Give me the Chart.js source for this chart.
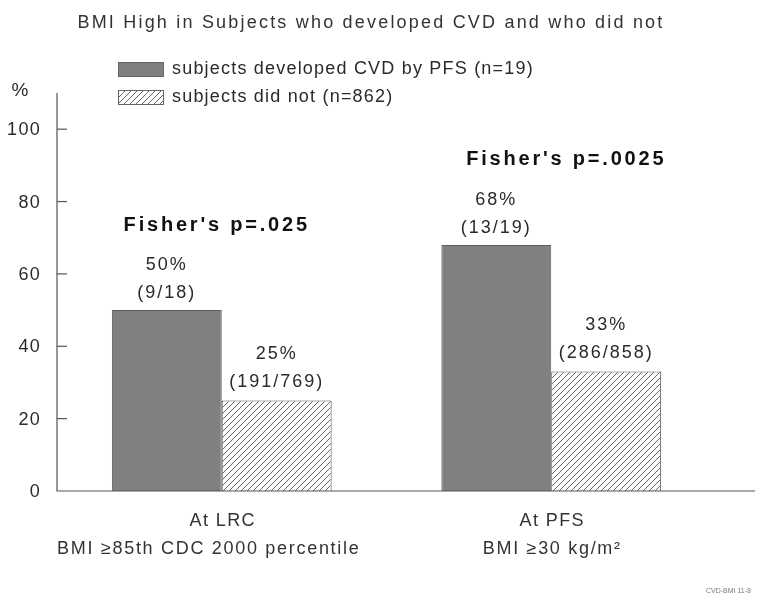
<!DOCTYPE html>
<html>
<head>
<meta charset="utf-8">
<script src="https://cdn.jsdelivr.net/npm/chart.js@4.4.1/dist/chart.umd.min.js"></script>
<style>
  html, body { margin: 0; padding: 0; background: #fff; }
  #wrap { width: 762px; height: 612px; position: relative; }
</style>
</head>
<body>
<div id="wrap"><canvas id="bmi-chart"></canvas></div>
<script>
// chart data
const groupLabels = [["At LRC", "BMI ≥85th CDC 2000 percentile"], ["At PFS", "BMI ≥30 kg/m²"]];
const seriesNames = ["subjects developed CVD by PFS (n=19)", "subjects did not (n=862)"];
const cvdValues = [50, 68];
const noCvdValues = [25, 33];
const cvdCounts = ["(9/18)", "(13/19)"];
const noCvdCounts = ["(191/769)", "(286/858)"];
const fisherLabels = ["Fisher's p=.025", "Fisher's p=.0025"];
const yTicks = [0, 20, 40, 60, 80, 100];

const FONT = "'Liberation Sans', Arial, Helvetica, sans-serif";

// diagonal hatch for the second series
const makeHatch = function () {
  const c = document.createElement("canvas");
  c.width = 6; c.height = 6;
  const g = c.getContext("2d");
  g.fillStyle = "#fff";
  g.fillRect(0, 0, 6, 6);
  g.strokeStyle = "#555";
  g.lineWidth = 0.9;
  g.beginPath();
  g.moveTo(-1, 7); g.lineTo(7, -1);
  g.moveTo(-1, 1); g.lineTo(1, -1);
  g.moveTo(5, 7); g.lineTo(7, 5);
  g.stroke();
  return document.getElementById("bmi-chart").getContext("2d").createPattern(c, "repeat");
};
const hatch = makeHatch();
const darkFill = "#808080";

const text = function (ctx, s, x, y, size, opts) {
  opts = opts || {};
  ctx.save();
  ctx.font = (opts.bold ? "bold " : "") + size + "px " + FONT;
  ctx.fillStyle = opts.color || "#2a2a2a";
  ctx.textAlign = opts.align || "center";
  ctx.textBaseline = "middle";
  ctx.letterSpacing = (opts.spacing || 0) + "px";
  ctx.fillText(s, x, y);
  ctx.restore();
};

// axes, labels and legend are drawn by hand to follow the slide layout
const decorations = {
  id: "decorations",
  afterDatasetsDraw: function (chart) {
    const ctx = chart.ctx;
    const area = chart.chartArea;
    const yScale = chart.scales.y;
    const xScale = chart.scales.x;

    ctx.save();
    ctx.strokeStyle = "#555";
    ctx.lineWidth = 1.2;
    ctx.beginPath();
    ctx.moveTo(area.left, area.top);
    ctx.lineTo(area.left, area.bottom);
    ctx.lineTo(755, area.bottom);
    ctx.stroke();

    // tick marks point into the plot
    for (const v of yTicks) {
      const y = yScale.getPixelForValue(v);
      if (v > 0) {
        ctx.beginPath();
        ctx.moveTo(area.left, y);
        ctx.lineTo(area.left + 10, y);
        ctx.stroke();
      }
      text(ctx, String(v), 41, y + 1, 18, { align: "right", spacing: 1.3 });
    }
    ctx.restore();
    text(ctx, "%", 20, 91, 19, { spacing: 0 });

    // title
    text(ctx, "BMI High in Subjects who developed CVD and who did not", 371, 23, 18, { spacing: 2.2, color: "#333" });

    // legend
    ctx.save();
    ctx.fillStyle = darkFill;
    ctx.fillRect(118, 62, 45, 14);
    ctx.strokeStyle = "#666";
    ctx.strokeRect(118.5, 62.5, 45, 14);
    ctx.fillStyle = hatch;
    ctx.fillRect(118, 90, 45, 14);
    ctx.strokeRect(118.5, 90.5, 45, 14);
    ctx.restore();
    text(ctx, seriesNames[0], 172, 69, 18, { align: "left", spacing: 1.2 });
    text(ctx, seriesNames[1], 172, 97, 18, { align: "left", spacing: 1.2 });

    // value labels above the bars
    const metaA = chart.getDatasetMeta(0);
    const metaB = chart.getDatasetMeta(1);
    for (let i = 0; i < groupLabels.length; i++) {
      const a = metaA.data[i];
      const b = metaB.data[i];
      text(ctx, cvdValues[i] + "%", a.x, a.y - 45, 18, { spacing: 2 });
      text(ctx, cvdCounts[i], a.x, a.y - 17, 18, { spacing: 2 });
      text(ctx, noCvdValues[i] + "%", b.x, b.y - 47, 18, { spacing: 2 });
      text(ctx, noCvdCounts[i], b.x, b.y - 19, 18, { spacing: 2 });

      const top = Math.min(a.y, b.y);
      const cx = xScale.getPixelForValue(i);
      text(ctx, fisherLabels[i], cx + (i === 0 ? -5 : 15), top - 85, 20, { bold: true, spacing: 2.8, color: "#111" });

      text(ctx, groupLabels[i][0], cx + 1, area.bottom + 30, 18, { color: "#333", spacing: 1.4 });
      text(ctx, groupLabels[i][1], cx - (i === 0 ? 13 : -1), area.bottom + 58, 18, { color: "#333", spacing: 1.7 });
    }

    text(ctx, "CVD-BMI 11-8", 706, 591, 7, { align: "left", color: "#777" });
  }
};

new Chart(document.getElementById("bmi-chart"), {
  type: "bar",
  data: {
    labels: groupLabels.map(g => g[0]),
    datasets: [
      {
        label: seriesNames[0],
        data: cvdValues,
        backgroundColor: darkFill,
        borderColor: "#5c5c5c",
        borderWidth: 1
      },
      {
        label: seriesNames[1],
        data: noCvdValues,
        backgroundColor: hatch,
        borderColor: "#555",
        borderWidth: 1
      }
    ]
  },
  options: {
    responsive: true,
    maintainAspectRatio: false,
    animation: false,
    layout: { padding: { left: 57, top: 93, right: 46, bottom: 121 } },
    datasets: { bar: { barPercentage: 1, categoryPercentage: 0.667 } },
    scales: {
      x: { display: false },
      y: { display: false, min: 0, max: 110 }
    },
    plugins: {
      legend: { display: false },
      title: { display: false },
      tooltip: { enabled: false }
    }
  },
  plugins: [decorations]
});
</script>
</body>
</html>
